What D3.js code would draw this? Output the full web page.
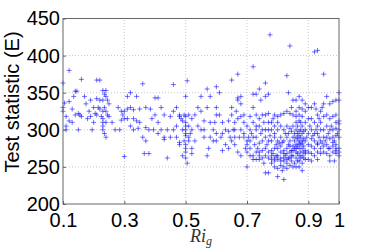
<!DOCTYPE html>
<html>
<head>
<meta charset="utf-8">
<script src="https://cdn.jsdelivr.net/npm/d3@7"></script>
<style>
  body { margin: 0; background: #fff; }
  svg { display: block; }
</style>
</head>
<body>
<div id="chart"></div>
<script>
// Ri_g vs test statistic
const pointsLeft = [
  [0.10,363],[0.10,325],[0.10,330],[0.11,318],[0.12,380],[0.11,300],[0.12,338],[0.13,328],[0.14,352],[0.145,352],
  [0.13,310],[0.14,320],[0.15,300],[0.155,320],[0.16,368],[0.105,336],[0.12,312],[0.135,345],[0.15,322],[0.11,305],
  [0.17,345],[0.18,315],[0.19,318],[0.175,335],[0.19,340],[0.20,330],[0.185,325],[0.195,300],[0.20,310],[0.16,318],
  [0.21,367],[0.22,367],[0.21,342],[0.22,340],[0.23,353],[0.24,353],[0.235,348],[0.23,325],[0.24,325],[0.245,320],
  [0.23,310],[0.23,305],[0.23,300],[0.235,295],[0.24,290],[0.23,315],[0.235,330],[0.22,328],[0.225,318],[0.21,320],
  [0.25,335],[0.245,340],[0.24,310],[0.25,318],[0.26,310],[0.215,330],[0.205,322],[0.23,340],[0.24,345],
  [0.27,300],[0.28,330],[0.29,325],[0.295,320],[0.30,315],[0.30,264],[0.29,313],[0.285,300],
  [0.31,345],[0.32,350],[0.31,328],[0.32,330],[0.33,327],[0.30,325],[0.31,315],[0.33,315],[0.34,312],[0.32,305],
  [0.33,300],[0.34,345],[0.35,310],[0.35,328],[0.345,302],
  [0.36,362],[0.37,330],[0.37,303],[0.38,300],[0.36,290],[0.365,268],[0.38,268],[0.39,315],[0.40,343],[0.40,320],
  [0.385,328],[0.395,300],[0.37,285],
  [0.41,343],[0.42,330],[0.43,320],[0.41,310],[0.42,300],[0.43,290],[0.44,262],[0.44,300],[0.45,318],[0.45,290],
  [0.43,287],[0.41,295]
];

const pointsMiddle = [
  [0.46,361],[0.47,330],[0.46,325],[0.48,320],[0.48,318],[0.47,305],[0.46,300],[0.47,290],[0.48,280],[0.49,300],
  [0.49,312],[0.50,345],[0.50,318],[0.50,310],[0.50,300],[0.50,295],[0.50,292],[0.495,285],[0.50,280],[0.50,275],
  [0.50,270],[0.50,262],[0.49,265],[0.48,283],[0.495,320],[0.485,315],[0.505,366],[0.51,320],[0.51,305],[0.51,290],
  [0.51,285],[0.52,315],[0.52,300],[0.515,295],[0.52,275],[0.52,268],[0.505,255],[0.50,305],
  [0.53,320],[0.54,305],[0.53,285],[0.55,345],[0.55,325],[0.55,300],[0.56,300],[0.56,290],[0.57,355],[0.57,330],
  [0.57,265],[0.58,310],[0.58,290],[0.59,300],[0.59,285],[0.60,358],[0.60,330],[0.60,320],[0.60,295],[0.60,285],
  [0.54,330],[0.56,312],[0.58,345],[0.575,275],[0.595,310],[0.61,350],[0.61,320],[0.62,310],[0.62,295],[0.615,290],
  [0.63,280],[0.63,300],[0.62,272],
  [0.64,298],[0.65,367],[0.65,330],[0.65,320],[0.64,312],[0.66,310],[0.66,300],[0.66,290],[0.67,375],[0.67,343],
  [0.67,340],[0.68,345],[0.68,335],[0.67,315],[0.68,318],[0.68,300],[0.69,310],[0.69,295],[0.69,290],[0.70,285],
  [0.70,280],[0.65,285],[0.66,280],[0.64,275],[0.67,270],[0.68,265],[0.70,270],[0.70,250],[0.70,305],[0.69,320],
  [0.665,325],[0.655,300],[0.645,290],[0.675,290],[0.695,275]
];

const pointsRight = [
  [0.71,318],[0.71,300],[0.72,385],[0.72,348],[0.72,330],[0.72,310],[0.73,348],[0.73,320],[0.73,300],[0.73,290],
  [0.74,355],[0.74,315],[0.74,305],[0.74,282],[0.75,320],[0.75,300],[0.75,285],[0.71,285],[0.71,275],[0.72,265],
  [0.72,260],[0.73,270],[0.73,260],[0.74,265],[0.74,260],[0.75,262],[0.75,272],[0.745,340],[0.705,290],[0.715,295],
  [0.725,280],[0.735,275],[0.745,295],[0.755,310],[0.71,265],[0.72,290],[0.73,305],[0.74,270],
  [0.76,363],[0.76,345],[0.77,348],[0.76,320],[0.77,322],[0.78,310],[0.79,320],[0.80,318],[0.76,300],[0.77,300],
  [0.78,300],[0.79,305],[0.80,300],[0.76,290],[0.77,285],[0.78,285],[0.79,290],[0.80,285],[0.76,275],[0.77,270],
  [0.78,272],[0.79,275],[0.80,275],[0.76,265],[0.77,262],[0.78,260],[0.79,262],[0.80,260],[0.76,242],[0.77,242],
  [0.78,255],[0.79,250],[0.80,248],[0.80,237],[0.775,428],[0.785,315],[0.795,265],[0.765,280],[0.775,292],[0.785,268],
  [0.795,280],[0.755,255],[0.79,258],[0.80,265],[0.78,265],[0.79,295],[0.80,310],[0.77,310],
  [0.81,320],[0.82,322],[0.83,325],[0.84,322],[0.85,320],[0.81,305],[0.82,300],[0.83,305],[0.84,302],[0.85,305],
  [0.81,290],[0.82,285],[0.83,290],[0.84,285],[0.85,290],[0.81,278],[0.82,272],[0.83,275],[0.84,270],[0.85,278],
  [0.81,262],[0.82,258],[0.83,260],[0.84,262],[0.85,265],[0.81,252],[0.82,250],[0.83,255],[0.82,233],[0.815,245],
  [0.83,373],[0.835,350],[0.84,413],[0.85,340],[0.845,330],[0.82,268],[0.825,265],[0.83,268],[0.835,280],[0.84,278],
  [0.845,265],[0.81,270],[0.815,283],[0.825,295],[0.835,295],[0.845,298],[0.805,282],[0.855,255],[0.85,250],[0.83,248],
  [0.84,252],[0.845,258],[0.82,262],[0.81,258],[0.835,262],[0.845,272],
  [0.86,340],[0.87,345],[0.88,340],[0.86,325],[0.87,330],[0.88,328],[0.89,325],[0.90,330],[0.86,310],[0.87,312],
  [0.88,305],[0.89,310],[0.90,315],[0.86,300],[0.87,298],[0.88,295],[0.89,300],[0.90,295],[0.86,290],[0.865,288],
  [0.87,285],[0.875,290],[0.88,285],[0.885,288],[0.89,285],[0.86,280],[0.865,278],[0.87,275],[0.875,280],[0.88,275],
  [0.885,278],[0.89,272],[0.86,270],[0.865,268],[0.87,265],[0.875,270],[0.88,265],[0.885,262],[0.89,268],[0.86,262],
  [0.87,258],[0.88,255],[0.89,260],[0.87,250],[0.88,245],[0.86,250],[0.90,280],[0.90,270],[0.90,260],[0.895,290],
  [0.855,285],[0.855,295],[0.855,275],[0.865,295],[0.875,300],[0.885,298],[0.865,305],[0.875,310],[0.88,318],[0.86,318],
  [0.87,320],[0.89,335],[0.85,272],[0.87,292],[0.88,282],[0.86,275],[0.87,282],[0.875,262],[0.865,258],[0.885,270],
  [0.92,405],[0.93,407],[0.91,330],[0.92,335],[0.93,320],[0.94,325],[0.95,335],[0.91,315],[0.92,310],[0.93,305],
  [0.94,310],[0.95,318],[0.91,300],[0.92,295],[0.93,295],[0.94,300],[0.95,300],[0.91,288],[0.92,285],[0.93,282],
  [0.94,285],[0.95,290],[0.91,278],[0.92,275],[0.93,280],[0.94,275],[0.95,278],[0.91,268],[0.92,265],[0.93,270],
  [0.94,268],[0.95,270],[0.91,258],[0.93,260],[0.95,375],[0.905,305],[0.915,292],[0.925,300],[0.935,290],[0.945,282],
  [0.925,328],[0.935,315],[0.945,330],
  [0.96,345],[0.97,335],[0.98,338],[0.99,340],[1.00,350],[1.00,340],[0.96,320],[0.97,315],[0.98,318],[0.99,320],
  [1.00,312],[0.96,305],[0.97,300],[0.98,300],[0.99,302],[1.00,308],[0.96,290],[0.97,288],[0.98,290],[0.99,292],
  [1.00,290],[0.96,280],[0.97,275],[0.98,278],[0.99,280],[1.00,275],[0.96,268],[0.97,265],[0.98,270],[0.99,272],
  [1.00,265],[0.985,258],[0.99,275],[0.985,285],[0.975,305],[0.965,295],[0.995,295],[0.99,310],[0.99,268],[0.98,283],
  [0.97,258],[1.00,270],[1.00,300],[0.955,285],[0.965,275]
];

const xTicks = [0.1, 0.3, 0.5, 0.7, 0.9, 1];
const yTicks = [200, 250, 300, 350, 400, 450];

const width = 374, height = 249;
const margin = { top: 18.5, right: 35, bottom: 45, left: 63 };

const svg = d3.select("#chart").append("svg")
  .attr("width", width)
  .attr("height", height);

const x = d3.scaleLinear().domain([0.1, 1]).range([margin.left, width - margin.right]);
const y = d3.scaleLinear().domain([200, 450]).range([height - margin.bottom, margin.top]);

// dotted grid
svg.append("g")
  .selectAll("line.gx")
  .data(xTicks.slice(1, -1))
  .join("line")
  .attr("x1", d => x(d)).attr("x2", d => x(d))
  .attr("y1", y(200)).attr("y2", y(450))
  .attr("stroke", "#c8c8c8")
  .attr("stroke-dasharray", "1,2");
svg.append("g")
  .selectAll("line.gy")
  .data(yTicks.slice(1, -1))
  .join("line")
  .attr("x1", x(0.1)).attr("x2", x(1))
  .attr("y1", d => y(d)).attr("y2", d => y(d))
  .attr("stroke", "#c8c8c8")
  .attr("stroke-dasharray", "1,2");

// markers
const allPoints = pointsLeft.concat(pointsMiddle, pointsRight);
const s = 2.5;
svg.append("g")
  .selectAll("path")
  .data(allPoints)
  .join("path")
  .attr("d", d => {
    const px = x(d[0]), py = y(d[1]);
    return `M${px - s},${py}H${px + s}M${px},${py - s}V${py + s}`;
  })
  .attr("stroke", "#0000ff")
  .attr("stroke-opacity", 0.55)
  .attr("stroke-width", 1)
  .attr("fill", "none");

// axes, MATLAB style box
const xAxis = svg.append("g")
  .attr("transform", `translate(0,${y(200)})`)
  .call(d3.axisBottom(x).tickValues(xTicks).tickSizeInner(-3).tickSizeOuter(0).tickPadding(9).tickFormat(d3.format("")));
const yAxis = svg.append("g")
  .attr("transform", `translate(${x(0.1)},0)`)
  .call(d3.axisLeft(y).tickValues(yTicks).tickSizeInner(-3).tickSizeOuter(0).tickPadding(3));

[xAxis, yAxis].forEach(g => {
  g.select(".domain").remove();
  g.selectAll("line").attr("stroke", "#666");
  g.selectAll("text")
    .attr("fill", "#000")
    .style("font-family", "'Liberation Sans', Arial, sans-serif")
    .style("font-size", "20px");
});

svg.append("rect")
  .attr("x", x(0.1)).attr("y", y(450))
  .attr("width", x(1) - x(0.1)).attr("height", y(200) - y(450))
  .attr("fill", "none")
  .attr("stroke", "#666")
  .attr("stroke-width", 1);

// axis labels
svg.append("text")
  .attr("transform", `translate(19,102) rotate(-90)`)
  .attr("text-anchor", "middle")
  .style("font-family", "'Liberation Sans', Arial, sans-serif")
  .style("font-size", "20px")
  .text("Test statistic (E)");

const xl = svg.append("text")
  .attr("x", 201).attr("y", 242)
  .attr("text-anchor", "middle")
  .style("font-family", "'Liberation Serif', 'DejaVu Serif', serif")
  .style("font-style", "italic")
  .style("font-size", "18px")
  .attr("fill", "#333");
xl.append("tspan").text("Ri");
xl.append("tspan").attr("dy", 3).style("font-size", "12px").text("g");
</script>
</body>
</html>
